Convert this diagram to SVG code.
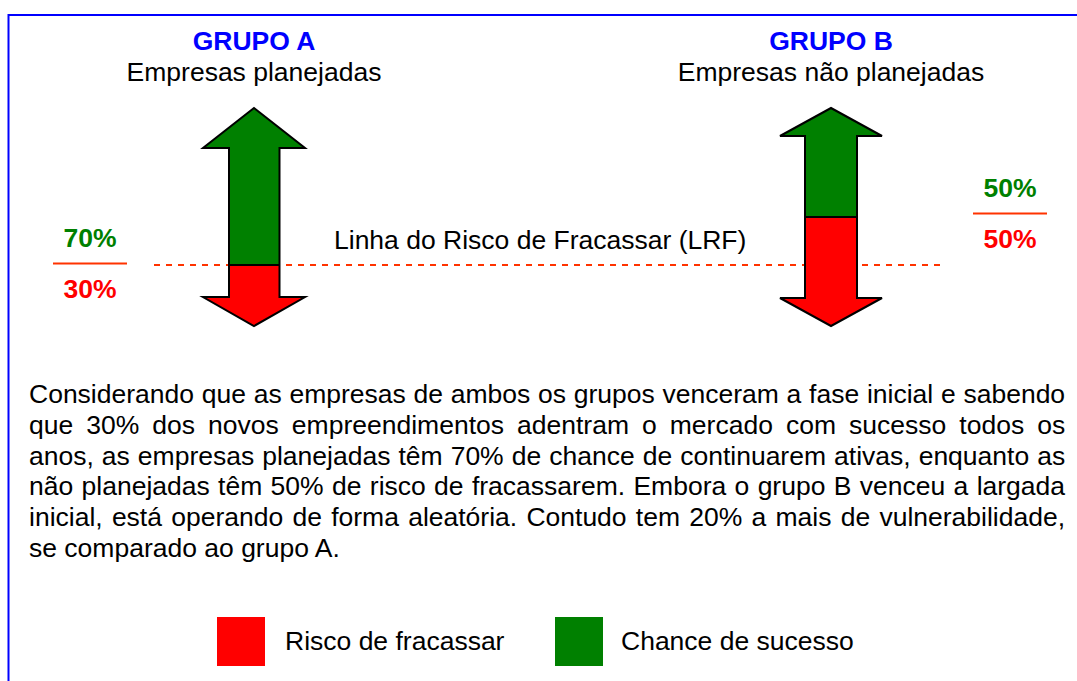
<svg xmlns="http://www.w3.org/2000/svg" width="1077" height="681" viewBox="0 0 1077 681">
<style>
text{font-family:"Liberation Sans",Arial,sans-serif;font-size:26.5px;fill:#000}
.title{font-weight:bold;fill:#0000FF}
.pg{font-weight:bold;fill:#008000}
.pr{font-weight:bold;fill:#FF0000}
.green{fill:#008000}
.red{fill:#FF0000}
.outline{fill:none;stroke:#000;stroke-width:2;stroke-linejoin:miter}
.sep{stroke:#FF3300;stroke-width:2}
.lrf{stroke:#FF3300;stroke-width:2;stroke-dasharray:6 6;fill:none}
</style>
<rect x="0" y="0" width="1077" height="681" fill="#fff"/>
<rect x="8.5" y="15" width="1090" height="700" fill="none" stroke="#0000FF" stroke-width="2"/>

<g id="connectors">
<line class="lrf" x1="154" y1="265" x2="946" y2="265"/>
</g>

<g id="grupoA-header">
<text class="title" x="254" y="50" text-anchor="middle">GRUPO A</text>
<text x="254" y="81" text-anchor="middle">Empresas planejadas</text>
</g>
<g id="grupoB-header">
<text class="title" x="831" y="50" text-anchor="middle">GRUPO B</text>
<text x="831" y="81" text-anchor="middle">Empresas não planejadas</text>
</g>

<g id="arrowA">
<polygon class="green" points="254,108 305,148 279.5,148 279.5,265 229,265 229,148 203,148"/>
<polygon class="red" points="229,265 279.5,265 279.5,297 305,297 254,326 203,297 229,297"/>
<polygon class="outline" points="254,108 305,148 279.5,148 279.5,297 305,297 254,326 203,297 229,297 229,148 203,148"/>
<line x1="229" y1="265" x2="279.5" y2="265" stroke="#000" stroke-width="2"/>
</g>

<g id="arrowB">
<polygon class="green" points="831,108 882,136 857,136 857,217 805,217 805,136 780,136"/>
<polygon class="red" points="805,217 857,217 857,298 882,298 831,326 780,298 805,298"/>
<polygon class="outline" points="831,108 882,136 857,136 857,298 882,298 831,326 780,298 805,298 805,136 780,136"/>
<line x1="805" y1="217" x2="857" y2="217" stroke="#000" stroke-width="2"/>
</g>

<g id="lrf-label">
<text x="334" y="249">Linha do Risco de Fracassar (LRF)</text>
</g>

<g id="pctA">
<text class="pg" x="90" y="247" text-anchor="middle">70%</text>
<line class="sep" x1="53" y1="263.5" x2="127" y2="263.5"/>
<text class="pr" x="90" y="298" text-anchor="middle">30%</text>
</g>
<g id="pctB">
<text class="pg" x="1010" y="197" text-anchor="middle">50%</text>
<line class="sep" x1="973" y1="213.5" x2="1047" y2="213.5"/>
<text class="pr" x="1010" y="248" text-anchor="middle">50%</text>
</g>

<g id="paragraph">
<text x="29" y="403" word-spacing="0.38">Considerando que as empresas de ambos os grupos venceram a fase inicial e sabendo</text>
<text x="29" y="433.8" word-spacing="5.68">que 30% dos novos empreendimentos adentram o mercado com sucesso todos os</text>
<text x="29" y="464.6" word-spacing="0.66">anos, as empresas planejadas têm 70% de chance de continuarem ativas, enquanto as</text>
<text x="29" y="495.4" word-spacing="0.98">não planejadas têm 50% de risco de fracassarem. Embora o grupo B venceu a largada</text>
<text x="29" y="526.2" word-spacing="1.88">inicial, está operando de forma aleatória. Contudo tem 20% a mais de vulnerabilidade,</text>
<text x="29" y="557">se comparado ao grupo A.</text>
</g>

<g id="legend-risco">
<rect class="red" x="217" y="617" width="48" height="49"/>
<text x="285" y="650">Risco de fracassar</text>
</g>
<g id="legend-chance">
<rect class="green" x="555" y="617" width="48" height="49"/>
<text x="621" y="650">Chance de sucesso</text>
</g>
</svg>
